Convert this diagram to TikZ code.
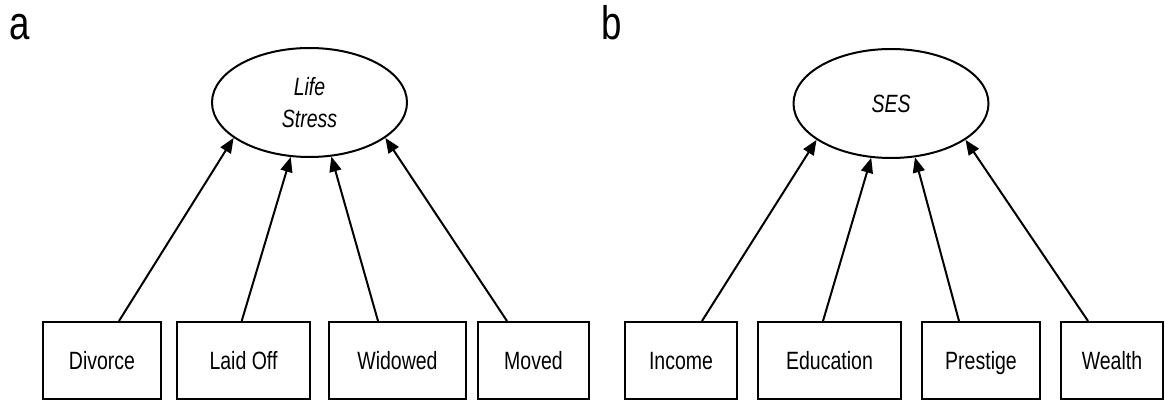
\documentclass[tikz,border=0pt]{standalone}
\usepackage{fontspec}
\setmainfont{Liberation Sans}[FakeStretch=0.78]
\usetikzlibrary{arrows.meta,shapes.geometric}
\begin{document}
\begin{tikzpicture}[x=1pt,y=-1pt,
  obs/.style={draw,line width=2pt,minimum height=77pt,inner sep=0pt,text height=18pt,text depth=0pt,font=\fontsize{25}{28}\selectfont},
  lat/.style={draw,ellipse,line width=2pt,inner sep=0pt,minimum width=195pt,minimum height=109pt,font=\fontsize{25}{32}\selectfont\itshape,align=center},
  path/.style={line width=2pt,-{Triangle[length=15pt,width=12pt]}},
  panel/.style={font=\fontsize{47}{47}\selectfont,anchor=base west,inner sep=0pt}]
\useasboundingbox (0,0) rectangle (1165,401);
% panel labels
\node[panel] (la) at (9,40) {a};
\node[panel] (lb) at (601,40) {b};
% panel a
\node[lat] (ls) at (309.5,102.5) {Life\\Stress};
\node[obs,minimum width=118pt] (div) at (102,360.5) {Divorce};
\node[obs,minimum width=133pt] (laid) at (243.5,360.5) {Laid Off};
\node[obs,minimum width=137pt] (wid) at (397.5,360.5) {Widowed};
\node[obs,minimum width=111pt] (mov) at (533.5,360.5) {Moved};
\draw[path] ([xshift=17pt]div.north) -- (ls.205.5);
\draw[path] ([xshift=-1.8pt]laid.north) -- (ls.251);
\draw[path] ([xshift=-19.5pt]wid.north) -- (ls.292.6);
\draw[path] ([xshift=-26.5pt]mov.north) -- (ls.335.4);
% panel b
\node[lat] (ses) at (891,103.5) {SES};
\node[obs,minimum width=112pt] (inc) at (681,360.5) {Income};
\node[obs,minimum width=143pt] (edu) at (829.5,360.5) {Education};
\node[obs,minimum width=118pt] (pre) at (981,360.5) {Prestige};
\node[obs,minimum width=102pt] (wea) at (1112,360.5) {Wealth};
\draw[path] ([xshift=21pt]inc.north) -- (ses.206.3);
\draw[path] ([xshift=-6.5pt]edu.north) -- (ses.250.2);
\draw[path] ([xshift=-22pt]pre.north) -- (ses.294.2);
\draw[path] ([xshift=-24pt]wea.north) -- (ses.334.3);
\end{tikzpicture}
\end{document}
